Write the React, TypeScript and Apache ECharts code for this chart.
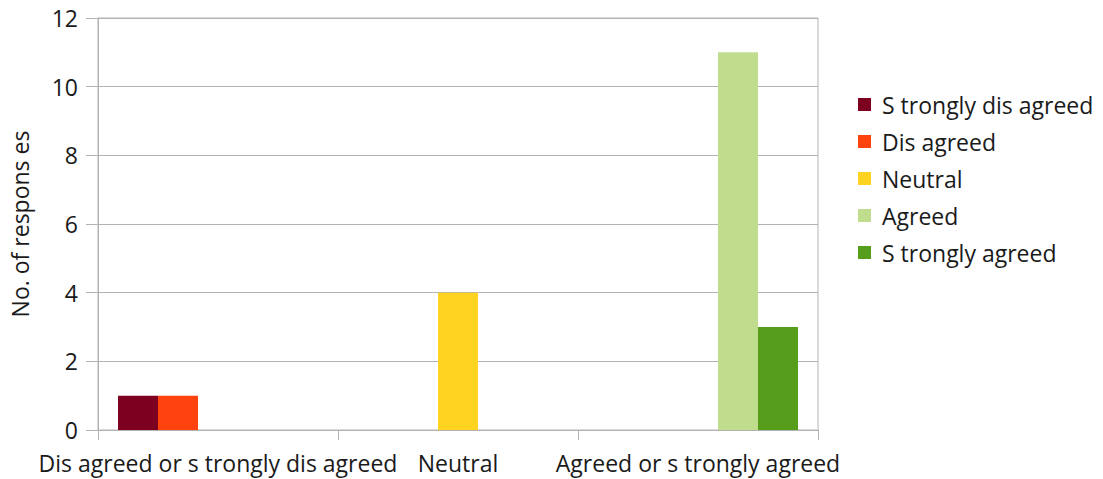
import React, { useEffect, useRef } from "react";
import * as echarts from "echarts";

const categories = [
  "Dis agreed or s trongly dis agreed",
  "Neutral",
  "Agreed or s trongly agreed",
];
const seriesNames = [
  "S trongly dis agreed",
  "Dis agreed",
  "Neutral",
  "Agreed",
  "S trongly agreed",
];
const stronglyDisagreed = [1, null, null];
const disagreed = [1, null, null];
const neutral = [null, 4, null];
const agreed = [null, null, 11];
const stronglyAgreed = [null, null, 3];
const colors = ["#7e0021", "#ff420e", "#ffd320", "#bfdd8d", "#579d1c"];
const yTicks = { min: 0, max: 12, interval: 2 };

const FONT = "Open Sans";
const TEXT = "#1a1a1a";
const LINE = "#b3b3b3";

export default function App() {
  const ref = useRef<HTMLDivElement>(null);
  useEffect(() => {
    if (!ref.current) return;
    const chart = echarts.init(ref.current, undefined, { renderer: "svg" });
    const values = [stronglyDisagreed, disagreed, neutral, agreed, stronglyAgreed];
    chart.setOption({
      animation: false,
      color: colors,
      grid: {
        left: 98,
        right: 285,
        top: 18,
        bottom: 49,
        containLabel: false,
        outerBoundsMode: "none",
        show: true,
        borderColor: LINE,
        borderWidth: 1,
      },
      legend: {
        orient: "vertical",
        left: 853,
        top: 88,
        itemWidth: 13,
        itemHeight: 13,
        itemGap: 14,
        icon: "rect",
        textStyle: { fontFamily: FONT, fontSize: 23, color: TEXT, padding: [0, 0, 0, 6] },
        data: seriesNames,
      },
      xAxis: {
        type: "category",
        data: categories,
        axisLine: { lineStyle: { color: LINE } },
        axisTick: { show: true, length: 10, lineStyle: { color: LINE } },
        axisLabel: {
          fontFamily: FONT,
          fontSize: 23,
          color: TEXT,
          margin: 21,
          interval: 0,
        },
      },
      yAxis: {
        type: "value",
        min: yTicks.min,
        max: yTicks.max,
        interval: yTicks.interval,
        name: "No. of respons es",
        nameLocation: "middle",
        nameGap: 67,
        nameTextStyle: { fontFamily: FONT, fontSize: 23, color: TEXT },
        axisLine: { show: true, lineStyle: { color: LINE } },
        axisTick: { show: true, length: 12, lineStyle: { color: LINE } },
        splitLine: { show: true, lineStyle: { color: LINE } },
        axisLabel: {
          fontFamily: FONT,
          fontSize: 23,
          color: TEXT,
          margin: 20,
        },
      },
      series: seriesNames.map((name, i) => ({
        name,
        type: "bar",
        data: values[i],
        barGap: "0%",
        barCategoryGap: "16.667%",
        itemStyle: { color: colors[i] },
      })),
    });
    return () => chart.dispose();
  }, []);
  return (
    <div
      ref={ref}
      style={{ position: "fixed", left: 0, top: 0, width: 1103, height: 479, background: "#fff" }}
    />
  );
}
